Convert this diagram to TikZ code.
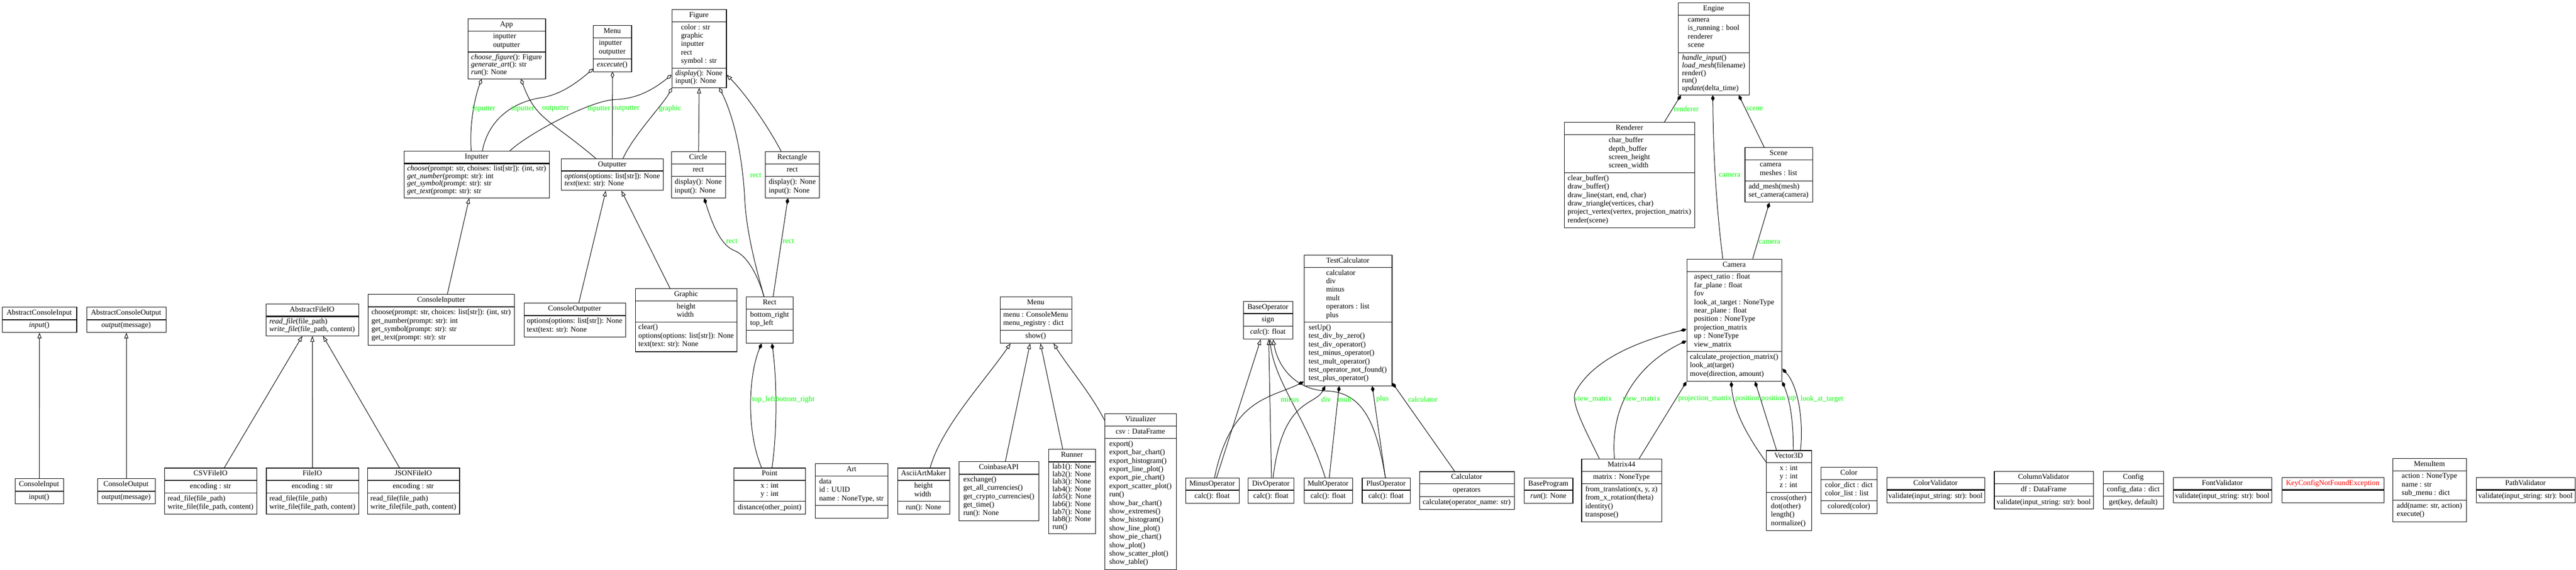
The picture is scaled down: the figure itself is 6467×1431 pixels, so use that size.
\documentclass[tikz,border=0pt]{standalone}
\usepackage{fontspec}
\setmainfont{Liberation Serif}
\usetikzlibrary{arrows.meta}
\definecolor{lgreen}{RGB}{0,255,0}
\definecolor{lred}{RGB}{255,0,0}
\newcommand\umlfont{\fontsize{18.67}{21.2}\selectfont}
\makeatletter
\def\uml@pa#1,#2,#3\relax{\def\ux{#1}\def\uy{#2}\def\uw{#3}}
\def\uml@pb#1,#2,#3\relax{\def\una{#1}\def\unm{#2}\def\upt{#3}}
\newcommand\umlclass[6]{%
  \uml@pa#2\relax\uml@pb#3\relax
  \ifdim\una pt<0pt \def\hB{0}\else\pgfmathsetmacro\hB{max(31.7,21.2*\una+10.5)}\fi
  \pgfmathsetmacro\hC{max(31.7,\upt*\unm+10.5)}%
  \pgfmathsetmacro\hT{31.7+\hB+\hC}%
  \node[cbox, minimum width=\uw pt, minimum height=\hT pt] (#1) at (\ux,\uy) {};
  \node[ctext] at (\ux+\uw/2,\uy+15.85) {#4};
  \ifdim\una pt<0pt
    \draw[line width=2.8pt] (\ux,\uy+31.7) -- ++(\uw,0);
  \else
    \draw[line width=1.4pt] (\ux,\uy+31.7) -- ++(\uw,0);
    \draw[line width=1.4pt] (\ux,\uy+31.7+\hB) -- ++(\uw,0);
    \ifdim\una pt>0pt \node[ctext] at (\ux+\uw/2,\uy+31.7+\hB/2) {#5};\fi
  \fi
  \ifdim\unm pt>0pt
    \node[ctext, font=\fontsize{18.67}{\upt}\selectfont] at (\ux+\uw/2,\uy+31.7+\hB+\hC/2) {#6};
  \fi
}
\makeatother
\tikzset{
  cbox/.style={draw, line width=1.4pt, inner sep=0pt, anchor=north west},
  ctext/.style={inner sep=0pt, align=left, font=\umlfont,
    execute at begin node=\strut, execute at end node=\strut},
  edge/.style={line width=1.3pt},
  inh/.style={edge, -{Triangle[open,length=14pt,width=10pt]}},
  agg/.style={edge, {Diamond[open,length=16pt,width=9pt]}-},
  comp/.style={edge, {Diamond[length=16pt,width=9pt]}-},
  lbl/.style={font=\umlfont, text=lgreen, anchor=west, inner sep=0pt},
}
\begin{document}
\begin{tikzpicture}[x=1pt,y=-1pt]
\fill[white] (0,0) rectangle (6467,1431);
\useasboundingbox (0,0) rectangle (6467,1431);

% ---------- classes ----------
\umlclass{aci}{5,771,187}{-1,1,18.8}{AbstractConsoleInput}{}{\textit{input}()}
\umlclass{aco}{217,771,199}{-1,1,18.8}{AbstractConsoleOutput}{}{\textit{output}(message)}
\umlclass{ci}{37,1202,122}{-1,1,21.2}{ConsoleInput}{}{input()}
\umlclass{co}{244,1202,145}{-1,1,21.2}{ConsoleOutput}{}{output(message)}
\umlclass{afio}{667,763,233}{-1,2,18.8}{AbstractFileIO}{}{\textit{read\_file}(file\_path)\\\textit{write\_file}(file\_path, content)}
\umlclass{csv}{413,1175,231}{1,2,21.2}{CSVFileIO}{encoding : str}{read\_file(file\_path)\\write\_file(file\_path, content)}
\umlclass{fio}{668,1175,232}{1,2,21.2}{FileIO}{encoding : str}{read\_file(file\_path)\\write\_file(file\_path, content)}
\umlclass{json}{922,1175,231}{1,2,21.2}{JSONFileIO}{encoding : str}{read\_file(file\_path)\\write\_file(file\_path, content)}
\umlclass{cinp}{924,739,367}{-1,4,21.2}{ConsoleInputter}{}{choose(prompt: str, choices: list[str]): (int, str)\\get\_number(prompt: str): int\\get\_symbol(prompt: str): str\\get\_text(prompt: str): str}
\umlclass{app}{1174,46,195}{2,3,18.8}{App}{inputter\\outputter}{\textit{choose\_figure}(): Figure\\\textit{generate\_art}(): str\\\textit{run}(): None}
\umlclass{menu}{1489,63,96}{2,1,18.8}{Menu}{inputter\\outputter}{\textit{excecute}()}
\umlclass{fig}{1686,23,137}{5,2,18.8}{Figure}{color : str\\graphic\\inputter\\rect\\symbol : str}{\textit{display}(): None\\input(): None}
\umlclass{inp}{1014,379,365}{-1,4,18.8}{Inputter}{}{\textit{choose}(prompt: str, choises: list[str]): (int, str)\\\textit{get\_number}(prompt: str): int\\\textit{get\_symbol}(prompt: str): str\\\textit{get\_text}(prompt: str): str}
\umlclass{outp}{1409,398,256}{-1,2,18.8}{Outputter}{}{\textit{options}(options: list[str]): None\\\textit{text}(text: str): None}
\umlclass{circ}{1685,380,136}{1,2,21.2}{Circle}{rect}{display(): None\\input(): None}
\umlclass{rectg}{1921,380,136}{1,2,21.2}{Rectangle}{rect}{display(): None\\input(): None}
\umlclass{cout}{1315,761,255}{-1,2,21.2}{ConsoleOutputter}{}{options(options: list[str]): None\\text(text: str): None}
\umlclass{graphic}{1595,724,255}{2,3,21.2}{Graphic}{height\\width}{clear()\\options(options: list[str]): None\\text(text: str): None}
\umlclass{rect}{1873,745,118}{2,0,21.2}{Rect}{bottom\_right\\top\_left}{}
\umlclass{point}{1842,1175,180}{2,1,21.2}{Point}{x : int\\y : int}{distance(other\_point)}
\umlclass{art}{2046,1164,183}{3,0,21.2}{Art}{data\\id : UUID\\name : NoneType, str}{}
\umlclass{ascii}{2253,1175,131}{2,1,21.2}{AsciiArtMaker}{height\\width}{run(): None}
\umlclass{coin}{2407,1159,201}{-1,5,21.2}{CoinbaseAPI}{}{exchange()\\get\_all\_currencies()\\get\_crypto\_currencies()\\get\_time()\\run(): None}
\umlclass{runner}{2632,1128,118}{-1,9,18.8}{Runner}{}{lab1(): None\\lab2(): None\\lab3(): None\\lab4(): None\\\textit{lab5}(): None\\lab6(): None\\lab7(): None\\lab8(): None\\run()}
\umlclass{viz}{2773,1038,180}{1,15,21.2}{Vizualizer}{csv : DataFrame}{export()\\export\_bar\_chart()\\export\_histogram()\\export\_line\_plot()\\export\_pie\_chart()\\export\_scatter\_plot()\\run()\\show\_bar\_chart()\\show\_extremes()\\show\_histogram()\\show\_line\_plot()\\show\_pie\_chart()\\show\_plot()\\show\_scatter\_plot()\\show\_table()}
\umlclass{menutwo}{2510,745,180}{2,1,21.2}{Menu}{menu : ConsoleMenu\\menu\_registry : dict}{show()}
\umlclass{baseop}{3121,756,124}{1,1,18.8}{BaseOperator}{sign}{\textit{calc}(): float}
\umlclass{testc}{3273,640,221}{6,7,21.2}{TestCalculator}{calculator\\div\\minus\\mult\\operators : list\\plus}{setUp()\\test\_div\_by\_zero()\\test\_div\_operator()\\test\_minus\_operator()\\test\_mult\_operator()\\test\_operator\_not\_found()\\test\_plus\_operator()}
\umlclass{minus}{2976,1200,134}{-1,1,21.2}{MinusOperator}{}{calc(): float}
\umlclass{div}{3133,1200,115}{-1,1,21.2}{DivOperator}{}{calc(): float}
\umlclass{mult}{3273,1200,122}{-1,1,21.2}{MultOperator}{}{calc(): float}
\umlclass{plus}{3419,1200,121}{-1,1,21.2}{PlusOperator}{}{calc(): float}
\umlclass{calc}{3563,1184,238}{1,1,21.2}{Calculator}{operators}{calculate(operator\_name: str)}
\umlclass{bprog}{3826,1200,122}{-1,1,18.8}{BaseProgram}{}{\textit{run}(): None}
\umlclass{engine}{4213,6,178}{4,5,18.8}{Engine}{camera\\is\_running : bool\\renderer\\scene}{\textit{handle\_input}()\\\textit{load\_mesh}(filename)\\render()\\run()\\\textit{update}(delta\_time)}
\umlclass{renderer}{3927,307,327}{4,6,21.2}{Renderer}{char\_buffer\\depth\_buffer\\screen\_height\\screen\_width}{clear\_buffer()\\draw\_buffer()\\draw\_line(start, end, char)\\draw\_triangle(vertices, char)\\project\_vertex(vertex, projection\_matrix)\\render(scene)}
\umlclass{scene}{4380,370,170}{2,2,21.2}{Scene}{camera\\meshes : list}{add\_mesh(mesh)\\set\_camera(camera)}
\umlclass{camera}{4234,650,239}{9,3,21.2}{Camera}{aspect\_ratio : float\\far\_plane : float\\fov\\look\_at\_target : NoneType\\near\_plane : float\\position : NoneType\\projection\_matrix\\up : NoneType\\view\_matrix}{calculate\_projection\_matrix()\\look\_at(target)\\move(direction, amount)}
\umlclass{mfour}{3970,1152,201}{1,4,21.2}{Matrix44}{matrix : NoneType}{from\_translation(x, y, z)\\from\_x\_rotation(theta)\\identity()\\transpose()}
\umlclass{vec}{4434,1131,113}{3,4,21.2}{Vector3D}{x : int\\y : int\\z : int}{cross(other)\\dot(other)\\length()\\normalize()}
\umlclass{color}{4571,1173,141}{2,1,21.2}{Color}{color\_dict : dict\\color\_list : list}{colored(color)}
\umlclass{colv}{4736,1199,246}{-1,1,21.2}{ColorValidator}{}{validate(input\_string: str): bool}
\umlclass{colmv}{5006,1183,249}{1,1,21.2}{ColumnValidator}{df : DataFrame}{validate(input\_string: str): bool}
\umlclass{config}{5280,1183,151}{1,1,21.2}{Config}{config\_data : dict}{get(key, default)}
\umlclass{fontv}{5455,1199,248}{-1,1,21.2}{FontValidator}{}{validate(input\_string: str): bool}
\umlclass{keyex}{5728,1199,256}{-1,0,21.2}{\textcolor{lred}{KeyConfigNotFoundException}}{}{}
\umlclass{mitem}{6007,1151,184}{3,2,21.2}{MenuItem}{action : NoneType\\name : str\\sub\_menu : dict}{add(name: str, action)\\execute()}
\umlclass{pathv}{6216,1199,248}{-1,1,21.2}{PathValidator}{}{validate(input\_string: str): bool}

% ---------- connectors ----------
\draw[agg] ([xshift=35]app.south west) .. controls (1190,250) and (1178,320) .. ([xshift=169]inp.north west);
\draw[agg] ([yshift=8]menu.south west) .. controls (1440,215) and (1400,240) .. (1355,246) .. controls (1265,262) and (1222,320) .. ([xshift=197]inp.north west);
\draw[agg] ([xshift=134]app.south west) .. controls (1345,300) and (1380,300) .. ([xshift=87]outp.north west);
\draw[agg] ([yshift=-165]fig.north west) .. controls (1640,225) and (1600,248) .. (1545,250) .. controls (1480,252) and (1320,340) .. ([xshift=266]inp.north west);
\draw[agg] (menu.south) -- ([xshift=128]outp.north west);
\draw[agg] ([xshift=1]fig.south west) .. controls (1665,262) and (1590,340) .. ([xshift=155]outp.north west);
\draw[inh] (circ.north) -- (fig.south);
\draw[agg] ([xshift=120]fig.south west) .. controls (1850,310) and (1866,420) .. (1870,506) .. controls (1875,590) and (1900,680) .. ([xshift=45]rect.north west);
\draw[inh] ([xshift=40]rectg.north west) .. controls (1935,330) and (1880,245) .. ([yshift=-165]fig.north east);
\draw[comp] ([xshift=83]circ.south west) .. controls (1790,570) and (1812,618) .. (1845,630) .. controls (1880,645) and (1905,700) .. ([xshift=45]rect.north west);
\draw[comp] ([xshift=57]rectg.south west) -- ([xshift=68]rect.north west);
\draw[comp] ([xshift=39]rect.south west) .. controls (1880,940) and (1872,1080) .. ([xshift=70]point.north west);
\draw[comp] ([xshift=65]rect.south west) .. controls (1950,950) and (1952,1080) .. ([xshift=96]point.north west);
\draw[inh] ([xshift=199]cinp.north west) -- ([xshift=164]inp.south west);
\draw[inh] ([xshift=138]cout.north west) -- ([xshift=112]outp.south west);
\draw[inh] ([xshift=87]graphic.north west) -- ([xshift=151]outp.south west);
\draw[inh] (ci.north) -- (aci.south);
\draw[inh] (co.north) -- (aco.south);
\draw[inh] ([xshift=150]csv.north west) -- ([xshift=92]afio.south west);
\draw[inh] (fio.north) -- (afio.south);
\draw[inh] ([xshift=81]json.north west) -- ([xshift=144]afio.south west);
\draw[inh] ([xshift=82]ascii.north west) .. controls (2365,1070) and (2470,960) .. ([xshift=27]menutwo.south west);
\draw[inh] ([xshift=117]coin.north west) -- ([xshift=76]menutwo.south west);
\draw[inh] ([xshift=36]runner.north west) -- ([xshift=102]menutwo.south west);
\draw[inh] ([yshift=-18]viz.north west) .. controls (2740,990) and (2680,920) .. ([xshift=135]menutwo.south west);
\draw[inh] ([xshift=78]minus.north west) -- ([xshift=44]baseop.south west);
\draw[comp] ([yshift=11]testc.south west) .. controls (3190,1000) and (3090,1000) .. ([xshift=73]minus.north west);
\draw[inh] ([xshift=59]div.north west) -- ([xshift=64]baseop.south west);
\draw[comp] ([xshift=54]testc.south west) .. controls (3300,1020) and (3220,1000) .. ([xshift=63]div.north west);
\draw[inh] ([xshift=54]mult.north west) .. controls (3280,1050) and (3200,960) .. ([xshift=67]baseop.south west);
\draw[comp] ([xshift=89]testc.south west) -- ([xshift=64]mult.north west);
\draw[inh] ([xshift=59]plus.north west) .. controls (3455,1060) and (3420,985) .. (3330,982) .. controls (3260,980) and (3210,930) .. ([xshift=75]baseop.south west);
\draw[comp] ([xshift=172]testc.south west) -- ([xshift=59]plus.north west);
\draw[comp] ([yshift=8]testc.south east) -- ([xshift=89]calc.north west);
\draw[comp] ([xshift=7]engine.south west) -- ([xshift=251]renderer.north west);
\draw[comp] ([xshift=87]engine.south west) .. controls (4301,400) and (4310,530) .. ([xshift=91]camera.north west);
\draw[comp] ([xshift=152]engine.south west) -- ([xshift=49]scene.north west);
\draw[comp] ([xshift=62]scene.south west) -- ([xshift=166]camera.north west);
\draw[comp] ([yshift=-177]camera.north west) .. controls (4120,855) and (4000,900) .. (3955,985) .. controls (3942,1010) and (3980,1080) .. ([xshift=45]mfour.north west);
\draw[comp] ([yshift=-206]camera.north west) .. controls (4130,905) and (4040,1000) .. ([xshift=83]mfour.north west);
\draw[comp] (camera.south west) -- ([xshift=145]mfour.north west);
\draw[comp] ([xshift=112]camera.south west) .. controls (4352,1035) and (4390,1100) .. ([yshift=-30]vec.north west);
\draw[comp] ([xshift=172]camera.south west) -- ([xshift=26]vec.north west);
\draw[comp] (camera.south east) .. controls (4495,1010) and (4502,1060) .. ([xshift=68]vec.north west);
\draw[comp] ([yshift=-276]camera.north east) .. controls (4515,970) and (4528,1060) .. ([xshift=86]vec.north west);

% ---------- labels ----------
\node[lbl] (l1) at (1185,273) {inputter};
\node[lbl] (l2) at (1283,273) {inputter};
\node[lbl] (l3) at (1361,273) {outputter};
\node[lbl] (l4) at (1474,273) {inputter};
\node[lbl] (l5) at (1538,273) {outputter};
\node[lbl] (l6) at (1654,273) {graphic};
\node[lbl] (l7) at (1883,440) {rect};
\node[lbl] (l8) at (1823,606) {rect};
\node[lbl] (l9) at (1965,606) {rect};
\node[lbl] (l10) at (1888,1004) {top\_left};
\node[lbl] (l11) at (1947,1004) {bottom\_right};
\node[lbl] (l12) at (3215,1003) {minus};
\node[lbl] (l13) at (3317,1003) {div};
\node[lbl] (l14) at (3359,1003) {mult};
\node[lbl] (l15) at (3455,1003) {plus};
\node[lbl] (l16) at (3535,1003) {calculator};
\node[lbl] (l17) at (4202,273) {renderer};
\node[lbl] (l18) at (4384,273) {scene};
\node[lbl] (l19) at (4315,440) {camera};
\node[lbl] (l20) at (4415,608) {camera};
\node[lbl] (l21) at (3952,1002) {view\_matrix};
\node[lbl] (l22) at (4073,1002) {view\_matrix};
\node[lbl] (l23) at (4213,1002) {projection\_matrix};
\node[lbl] (l24) at (4356,1002) {position};
\node[lbl] (l25) at (4421,1002) {position};
\node[lbl] (l26) at (4490,1002) {up};
\node[lbl] (l27) at (4520,1002) {look\_at\_target};
\end{tikzpicture}
\end{document}
